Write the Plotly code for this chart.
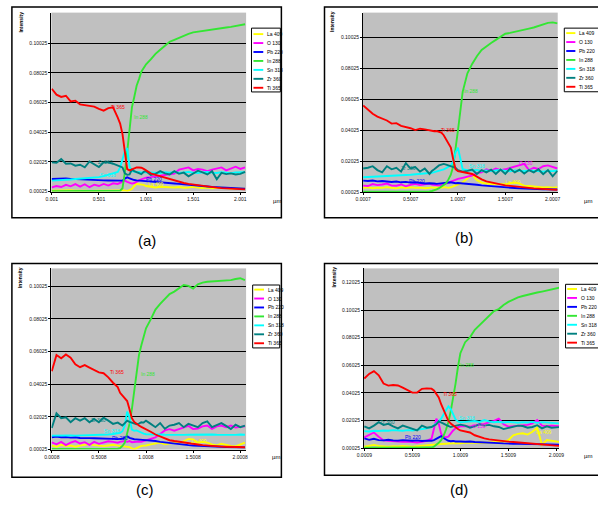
import plotly.graph_objects as go

W, H = 598, 507

# ---------------- data ----------------
DEPTH = [0.0, 0.05, 0.1, 0.15, 0.2, 0.25, 0.3, 0.35, 0.4, 0.45, 0.5, 0.55, 0.6, 0.65, 0.7,
         0.725, 0.75, 0.775, 0.8, 0.825, 0.85, 0.875, 0.9, 0.925, 0.95, 0.975, 1.0,
         1.05, 1.1, 1.15, 1.2, 1.25, 1.3, 1.35, 1.4, 1.45, 1.5, 1.55, 1.6, 1.65, 1.7,
         1.75, 1.8, 1.85, 1.9, 1.95, 2.0, 2.05]

ELEMENTS = ["La 409", "O 130", "Pb 220", "In 288", "Sn 318", "Zr 360", "Ti 365"]
COLORS = ["#FFFF00", "#FF00FF", "#0000FF", "#33E633", "#00FFFF", "#008080", "#FF0000"]

Y_TICKS = [0.00025, 0.02025, 0.04025, 0.06025, 0.08025, 0.10025, 0.12025]
Y_TICK_TEXT = ["0.00025", "0.02025", "0.04025", "0.06025", "0.08025", "0.10025", "0.12025"]
X_TICK_STEPS = [0.0, 0.5, 1.0, 1.5, 2.0]

A_X_TEXT = ["0.001", "0.501", "1.001", "1.501", "2.001"]
B_X_TEXT = ["0.0007", "0.5007", "1.0007", "1.5007", "2.0007"]
C_X_TEXT = ["0.0008", "0.5008", "1.0008", "1.5008", "2.0008"]
D_X_TEXT = ["0.0009", "0.5009", "1.0009", "1.5009", "2.0009"]

# panel (a)
a_la = [0.0008, 0.0010, 0.0008, 0.0009, 0.0011, 0.0008, 0.0010, 0.0009, 0.0007, 0.0010, 0.0008, 0.0009, 0.0011, 0.0009, 0.0010,
        0.0010, 0.0012, 0.0010, 0.0005, 0.0010, 0.0020, 0.0040, 0.0055, 0.0052, 0.0050, 0.0048, 0.0040,
        0.0033, 0.0030, 0.0035, 0.0032, 0.0028, 0.0030, 0.0033, 0.0028, 0.0030, 0.0034, 0.0030, 0.0027, 0.0030, 0.0025, 0.0028, 0.0030, 0.0026, 0.0022, 0.0024, 0.0020, 0.0021]
a_o = [0.0031, 0.0040, 0.0033, 0.0048, 0.0038, 0.0053, 0.0036, 0.0052, 0.0032, 0.0049, 0.0040, 0.0054, 0.0043, 0.0058, 0.0054,
       0.0060, 0.0068, 0.0076, 0.0068, 0.0060, 0.0056, 0.0060, 0.0072, 0.0078, 0.0085, 0.0090, 0.0096,
       0.0100, 0.0104, 0.0108, 0.0112, 0.0120, 0.0124, 0.0150, 0.0160, 0.0165, 0.0145, 0.0155, 0.0150, 0.0140, 0.0150, 0.0158, 0.0165, 0.0145, 0.0160, 0.0170, 0.0155, 0.0165]
a_pb = [0.0087, 0.0089, 0.0092, 0.0090, 0.0088, 0.0086, 0.0085, 0.0083, 0.0082, 0.0080, 0.0079, 0.0078, 0.0077, 0.0076, 0.0074,
        0.0074, 0.0076, 0.0090, 0.0098, 0.0092, 0.0085, 0.0080, 0.0078, 0.0077, 0.0076, 0.0075, 0.0074,
        0.0072, 0.0070, 0.0068, 0.0064, 0.0060, 0.0057, 0.0054, 0.0052, 0.0049, 0.0046, 0.0043, 0.0040, 0.0037, 0.0034, 0.0032, 0.0030, 0.0028, 0.0026, 0.0024, 0.0022, 0.0021]
a_in = [0.0005, 0.0005, 0.0004, 0.0005, 0.0005, 0.0004, 0.0005, 0.0005, 0.0004, 0.0005, 0.0005, 0.0004, 0.0005, 0.0005, 0.0006,
        0.0008, 0.0025, 0.0130, 0.0270, 0.0440, 0.0570, 0.0640, 0.0715, 0.0760, 0.0810, 0.0835, 0.0860,
        0.0893, 0.0930, 0.0958, 0.0985, 0.1012, 0.1025, 0.1040, 0.1052, 0.1065, 0.1075, 0.1080, 0.1088, 0.1092, 0.1098, 0.1100, 0.1105, 0.1108, 0.1112, 0.1118, 0.1124, 0.1130]
a_sn = [0.0076, 0.0077, 0.0079, 0.0082, 0.0084, 0.0087, 0.0089, 0.0092, 0.0094, 0.0097, 0.0100, 0.0106, 0.0114, 0.0124, 0.0135,
        0.0165, 0.0230, 0.0275, 0.0295, 0.0170, 0.0140, 0.0135, 0.0132, 0.0135, 0.0130, 0.0133, 0.0132,
        0.0135, 0.0130, 0.0128, 0.0133, 0.0130, 0.0135, 0.0128, 0.0132, 0.0135, 0.0130, 0.0128, 0.0132, 0.0135, 0.0130, 0.0128, 0.0133, 0.0130, 0.0127, 0.0132, 0.0135, 0.0133]
a_zr = [0.0199, 0.0197, 0.0221, 0.0190, 0.0192, 0.0177, 0.0183, 0.0166, 0.0205, 0.0185, 0.0168, 0.0199, 0.0199, 0.0190, 0.0180,
        0.0172, 0.0165, 0.0125, 0.0115, 0.0118, 0.0150, 0.0140, 0.0132, 0.0125, 0.0120, 0.0135, 0.0140,
        0.0115, 0.0122, 0.0140, 0.0125, 0.0118, 0.0140, 0.0122, 0.0130, 0.0105, 0.0122, 0.0143, 0.0132, 0.0118, 0.0140, 0.0085, 0.0128, 0.0120, 0.0125, 0.0118, 0.0122, 0.0135]
a_ti = [0.0695, 0.0655, 0.0640, 0.0648, 0.0610, 0.0615, 0.0590, 0.0585, 0.0578, 0.0575, 0.0560, 0.0548, 0.0565, 0.0570, 0.0500,
        0.0460, 0.0390, 0.0270, 0.0154, 0.0145, 0.0152, 0.0158, 0.0165, 0.0165, 0.0163, 0.0155, 0.0145,
        0.0125, 0.0115, 0.0106, 0.0097, 0.0085, 0.0075, 0.0067, 0.0060, 0.0054, 0.0049, 0.0045, 0.0040, 0.0036, 0.0032, 0.0029, 0.0026, 0.0024, 0.0022, 0.0020, 0.0018, 0.0017]

# panel (b)
b_la = [0.0030, 0.0034, 0.0028, 0.0032, 0.0030, 0.0035, 0.0031, 0.0027, 0.0033, 0.0029, 0.0034, 0.0030, 0.0032, 0.0028, 0.0031,
        0.0033, 0.0030, 0.0032, 0.0034, 0.0031, 0.0035, 0.0033, 0.0030, 0.0034, 0.0040, 0.0045, 0.0050,
        0.0065, 0.0090, 0.0115, 0.0080, 0.0065, 0.0058, 0.0055, 0.0053, 0.0056, 0.0052, 0.0060, 0.0065, 0.0058, 0.0045, 0.0042, 0.0038, 0.0035, 0.0033, 0.0035, 0.0032, 0.0034]
b_o = [0.0045, 0.0042, 0.0055, 0.0048, 0.0052, 0.0058, 0.0045, 0.0044, 0.0052, 0.0040, 0.0050, 0.0056, 0.0048, 0.0055, 0.0058,
       0.0052, 0.0050, 0.0048, 0.0045, 0.0050, 0.0053, 0.0058, 0.0062, 0.0070, 0.0077, 0.0085, 0.0088,
       0.0095, 0.0102, 0.0110, 0.0125, 0.0130, 0.0150, 0.0140, 0.0155, 0.0145, 0.0150, 0.0160, 0.0165, 0.0175, 0.0185, 0.0145, 0.0160, 0.0152, 0.0170, 0.0175, 0.0165, 0.0155]
b_pb = [0.0077, 0.0075, 0.0078, 0.0072, 0.0074, 0.0070, 0.0068, 0.0071, 0.0066, 0.0069, 0.0064, 0.0066, 0.0060, 0.0058, 0.0060,
        0.0057, 0.0058, 0.0056, 0.0058, 0.0060, 0.0062, 0.0064, 0.0065, 0.0066, 0.0063, 0.0060, 0.0062,
        0.0060, 0.0056, 0.0053, 0.0050, 0.0046, 0.0043, 0.0040, 0.0038, 0.0035, 0.0033, 0.0031, 0.0029, 0.0027, 0.0025, 0.0024, 0.0023, 0.0022, 0.0021, 0.0021, 0.0020, 0.0020]
b_in = [0.0006, 0.0006, 0.0005, 0.0006, 0.0006, 0.0005, 0.0006, 0.0006, 0.0005, 0.0006, 0.0006, 0.0005, 0.0006, 0.0006, 0.0007,
        0.0010, 0.0014, 0.0020, 0.0028, 0.0038, 0.0048, 0.0060, 0.0085, 0.0115, 0.0170, 0.0280, 0.0400,
        0.0650, 0.0770, 0.0830, 0.0880, 0.0920, 0.0945, 0.0965, 0.0985, 0.1005, 0.1025, 0.1030, 0.1038, 0.1042, 0.1050, 0.1058, 0.1065, 0.1075, 0.1085, 0.1095, 0.1098, 0.1092]
b_sn = [0.0099, 0.0100, 0.0101, 0.0103, 0.0105, 0.0106, 0.0108, 0.0109, 0.0111, 0.0113, 0.0115, 0.0117, 0.0120, 0.0122, 0.0125,
        0.0128, 0.0132, 0.0136, 0.0140, 0.0145, 0.0150, 0.0158, 0.0165, 0.0175, 0.0200, 0.0260, 0.0290,
        0.0150, 0.0145, 0.0142, 0.0145, 0.0140, 0.0143, 0.0138, 0.0142, 0.0145, 0.0140, 0.0137, 0.0142, 0.0140, 0.0138, 0.0143, 0.0140, 0.0137, 0.0135, 0.0140, 0.0138, 0.0142]
b_zr = [0.0155, 0.0160, 0.0170, 0.0145, 0.0130, 0.0170, 0.0150, 0.0160, 0.0135, 0.0190, 0.0155, 0.0165, 0.0135, 0.0155, 0.0120,
        0.0140, 0.0150, 0.0165, 0.0175, 0.0180, 0.0185, 0.0180, 0.0175, 0.0172, 0.0165, 0.0160, 0.0145,
        0.0135, 0.0140, 0.0148, 0.0120, 0.0145, 0.0130, 0.0148, 0.0120, 0.0148, 0.0120, 0.0155, 0.0130, 0.0148, 0.0122, 0.0145, 0.0130, 0.0150, 0.0118, 0.0145, 0.0105, 0.0140]
b_ti = [0.0562, 0.0535, 0.0508, 0.0490, 0.0478, 0.0465, 0.0445, 0.0448, 0.0430, 0.0424, 0.0415, 0.0403, 0.0412, 0.0408, 0.0402,
        0.0398, 0.0396, 0.0397, 0.0393, 0.0387, 0.0370, 0.0340, 0.0318, 0.0290, 0.0215, 0.0150, 0.0138,
        0.0130, 0.0126, 0.0120, 0.0100, 0.0085, 0.0072, 0.0065, 0.0058, 0.0052, 0.0046, 0.0043, 0.0039, 0.0035, 0.0032, 0.0030, 0.0027, 0.0025, 0.0022, 0.0020, 0.0019, 0.0018]

# panel (c)
c_la = [0.0027, 0.0020, 0.0032, 0.0025, 0.0028, 0.0020, 0.0027, 0.0033, 0.0037, 0.0030, 0.0025, 0.0024, 0.0028, 0.0032, 0.0027,
        0.0025, 0.0022, 0.0018, 0.0016, 0.0018, 0.0010, 0.0004, 0.0012, 0.0020, 0.0025, 0.0027, 0.0028,
        0.0035, 0.0038, 0.0045, 0.0035, 0.0040, 0.0045, 0.0040, 0.0055, 0.0068, 0.0065, 0.0045, 0.0050, 0.0045, 0.0035, 0.0028, 0.0038, 0.0030, 0.0025, 0.0022, 0.0035, 0.0045]
c_o = [0.0047, 0.0035, 0.0050, 0.0030, 0.0045, 0.0055, 0.0040, 0.0048, 0.0032, 0.0050, 0.0038, 0.0046, 0.0054, 0.0050, 0.0045,
       0.0050, 0.0052, 0.0055, 0.0050, 0.0055, 0.0048, 0.0050, 0.0048, 0.0052, 0.0050, 0.0055, 0.0060,
       0.0066, 0.0078, 0.0098, 0.0120, 0.0128, 0.0118, 0.0128, 0.0140, 0.0148, 0.0128, 0.0132, 0.0145, 0.0150, 0.0130, 0.0145, 0.0150, 0.0140, 0.0150, 0.0138, 0.0142, 0.0145]
c_pb = [0.0078, 0.0082, 0.0078, 0.0080, 0.0076, 0.0078, 0.0074, 0.0075, 0.0073, 0.0072, 0.0070, 0.0071, 0.0069, 0.0068, 0.0067,
        0.0068, 0.0070, 0.0076, 0.0085, 0.0075, 0.0068, 0.0066, 0.0065, 0.0064, 0.0063, 0.0062, 0.0060,
        0.0058, 0.0055, 0.0050, 0.0046, 0.0042, 0.0038, 0.0035, 0.0032, 0.0030, 0.0028, 0.0026, 0.0025, 0.0023, 0.0022, 0.0021, 0.0020, 0.0019, 0.0018, 0.0017, 0.0016, 0.0016]
c_in = [0.0007, 0.0007, 0.0006, 0.0007, 0.0007, 0.0006, 0.0007, 0.0007, 0.0006, 0.0007, 0.0007, 0.0006, 0.0007, 0.0007, 0.0008,
        0.0012, 0.0025, 0.0045, 0.0098, 0.0160, 0.0250, 0.0365, 0.0480, 0.0580, 0.0640, 0.0686, 0.0745,
        0.0800, 0.0860, 0.0895, 0.0925, 0.0955, 0.0970, 0.0990, 0.1010, 0.1005, 0.0988, 0.1015, 0.1025, 0.1030, 0.1032, 0.1035, 0.1036, 0.1037, 0.1040, 0.1047, 0.1052, 0.1040]
c_sn = [0.0088, 0.0089, 0.0087, 0.0088, 0.0090, 0.0088, 0.0089, 0.0090, 0.0089, 0.0091, 0.0090, 0.0092, 0.0095, 0.0098, 0.0100,
        0.0105, 0.0115, 0.0150, 0.0235, 0.0200, 0.0125, 0.0118, 0.0120, 0.0112, 0.0105, 0.0100, 0.0097,
        0.0095, 0.0094, 0.0095, 0.0094, 0.0093, 0.0095, 0.0094, 0.0093, 0.0094, 0.0095, 0.0094, 0.0093, 0.0094, 0.0095, 0.0094, 0.0093, 0.0095, 0.0094, 0.0093, 0.0095, 0.0094]
c_zr = [0.0135, 0.0225, 0.0195, 0.0200, 0.0170, 0.0195, 0.0180, 0.0195, 0.0170, 0.0190, 0.0170, 0.0198, 0.0180, 0.0160, 0.0168,
        0.0160, 0.0150, 0.0165, 0.0180, 0.0172, 0.0168, 0.0160, 0.0158, 0.0162, 0.0170, 0.0168, 0.0180,
        0.0160, 0.0140, 0.0165, 0.0130, 0.0150, 0.0155, 0.0165, 0.0140, 0.0160, 0.0150, 0.0140, 0.0165, 0.0175, 0.0140, 0.0155, 0.0165, 0.0148, 0.0128, 0.0155, 0.0140, 0.0150]
c_ti = [0.0483, 0.0582, 0.0562, 0.0585, 0.0565, 0.0525, 0.0507, 0.0520, 0.0505, 0.0490, 0.0475, 0.0470, 0.0445, 0.0412, 0.0385,
        0.0350, 0.0335, 0.0318, 0.0300, 0.0250, 0.0195, 0.0172, 0.0158, 0.0150, 0.0142, 0.0135, 0.0128,
        0.0112, 0.0095, 0.0082, 0.0070, 0.0060, 0.0055, 0.0050, 0.0046, 0.0042, 0.0038, 0.0034, 0.0030, 0.0027, 0.0025, 0.0023, 0.0021, 0.0020, 0.0019, 0.0018, 0.0017, 0.0017]

# panel (d)
d_la = [0.0012, 0.0018, 0.0025, 0.0018, 0.0015, 0.0012, 0.0016, 0.0014, 0.0018, 0.0015, 0.0013, 0.0016, 0.0018, 0.0020, 0.0022,
        0.0025, 0.0028, 0.0030, 0.0032, 0.0030, 0.0033, 0.0035, 0.0033, 0.0036, 0.0038, 0.0035, 0.0037,
        0.0040, 0.0042, 0.0040, 0.0043, 0.0041, 0.0044, 0.0042, 0.0045, 0.0048, 0.0060, 0.0095, 0.0105, 0.0110, 0.0100, 0.0120, 0.0150, 0.0025, 0.0060, 0.0055, 0.0045, 0.0045]
d_o = [0.0080, 0.0100, 0.0115, 0.0085, 0.0058, 0.0055, 0.0052, 0.0050, 0.0048, 0.0050, 0.0045, 0.0043, 0.0048, 0.0055, 0.0070,
       0.0150, 0.0215, 0.0180, 0.0105, 0.0085, 0.0080, 0.0085, 0.0110, 0.0130, 0.0145, 0.0150, 0.0160,
       0.0162, 0.0158, 0.0165, 0.0175, 0.0178, 0.0188, 0.0200, 0.0215, 0.0175, 0.0158, 0.0160, 0.0165, 0.0168, 0.0170, 0.0182, 0.0205, 0.0165, 0.0160, 0.0165, 0.0162, 0.0160]
d_pb = [0.0072, 0.0062, 0.0070, 0.0060, 0.0058, 0.0062, 0.0058, 0.0056, 0.0060, 0.0057, 0.0055, 0.0058, 0.0054, 0.0056, 0.0055,
        0.0060, 0.0068, 0.0080, 0.0088, 0.0075, 0.0062, 0.0055, 0.0052, 0.0054, 0.0050, 0.0052, 0.0050,
        0.0048, 0.0050, 0.0046, 0.0045, 0.0046, 0.0043, 0.0040, 0.0038, 0.0036, 0.0037, 0.0034, 0.0033, 0.0032, 0.0031, 0.0030, 0.0030, 0.0029, 0.0030, 0.0028, 0.0027, 0.0027]
d_in = [0.0005, 0.0005, 0.0004, 0.0005, 0.0005, 0.0004, 0.0005, 0.0005, 0.0004, 0.0005, 0.0005, 0.0004, 0.0005, 0.0005, 0.0006,
        0.0012, 0.0025, 0.0040, 0.0060, 0.0090, 0.0135, 0.0190, 0.0270, 0.0360, 0.0470, 0.0590, 0.0690,
        0.0770, 0.0805, 0.0860, 0.0895, 0.0930, 0.0962, 0.0995, 0.1010, 0.1040, 0.1062, 0.1080, 0.1095, 0.1105, 0.1115, 0.1122, 0.1130, 0.1137, 0.1145, 0.1150, 0.1160, 0.1168]
d_sn = [0.0125, 0.0122, 0.0128, 0.0126, 0.0130, 0.0128, 0.0132, 0.0130, 0.0128, 0.0132, 0.0130, 0.0135, 0.0138, 0.0145, 0.0155,
        0.0165, 0.0180, 0.0195, 0.0215, 0.0245, 0.0280, 0.0305, 0.0285, 0.0240, 0.0210, 0.0195, 0.0190,
        0.0192, 0.0195, 0.0198, 0.0192, 0.0205, 0.0195, 0.0190, 0.0193, 0.0188, 0.0192, 0.0190, 0.0186, 0.0190, 0.0188, 0.0192, 0.0185, 0.0190, 0.0188, 0.0185, 0.0182, 0.0180]
d_zr = [0.0160, 0.0145, 0.0165, 0.0190, 0.0170, 0.0178, 0.0160, 0.0145, 0.0165, 0.0155, 0.0140, 0.0130, 0.0165, 0.0150, 0.0155,
        0.0165, 0.0175, 0.0195, 0.0190, 0.0180, 0.0170, 0.0160, 0.0155, 0.0160, 0.0165, 0.0170, 0.0172,
        0.0165, 0.0150, 0.0160, 0.0175, 0.0165, 0.0170, 0.0160, 0.0155, 0.0140, 0.0150, 0.0158, 0.0165, 0.0162, 0.0150, 0.0155, 0.0168, 0.0145, 0.0160, 0.0150, 0.0155, 0.0155]
d_ti = [0.0507, 0.0540, 0.0560, 0.0530, 0.0470, 0.0455, 0.0460, 0.0456, 0.0440, 0.0420, 0.0404, 0.0405, 0.0432, 0.0435, 0.0433,
        0.0420, 0.0395, 0.0370, 0.0320, 0.0275, 0.0235, 0.0200, 0.0180, 0.0165, 0.0150, 0.0140, 0.0130,
        0.0125, 0.0115, 0.0095, 0.0082, 0.0073, 0.0065, 0.0060, 0.0055, 0.0052, 0.0049, 0.0046, 0.0043, 0.0040, 0.0038, 0.0036, 0.0033, 0.0031, 0.0029, 0.0025, 0.0020, 0.0017]

# inline series labels (label, depth, intensity) - label centres
A_LABELS = [("Ti 365", 0.698, 0.0574), ("In 288", 0.951, 0.0504), ("Zr 360", 0.566, 0.0203),
            ("Sn 318", 0.597, 0.0112), ("Pb 220", 1.085, 0.0087), ("La 409", 1.106, 0.0052)]
B_LABELS = [("Ti 365", 0.894, 0.0402), ("In 288", 1.135, 0.0654), ("Zr 360", 0.480, 0.0156),
            ("Sn 318", 1.205, 0.0173), ("Pb 220", 0.563, 0.0077), ("La 409", 1.585, 0.0071), ("O 130", 1.722, 0.0190)]
C_LABELS = [("Ti 365", 0.697, 0.0479), ("In 288", 1.023, 0.0467), ("Zr 360", 0.496, 0.0185),
            ("Sn 318", 0.640, 0.0114), ("Pb 220", 0.720, 0.0071), ("La 409", 1.563, 0.0057)]
D_LABELS = [("Ti 365", 0.888, 0.0392), ("In 288", 1.074, 0.0604), ("Zr 360", 0.242, 0.0188),
            ("Sn 318", 1.074, 0.0219), ("Pb 220", 0.503, 0.0079), ("La 409", 1.873, 0.0116), ("O 130", 1.194, 0.0164)]

# ---------------- layout geometry (pixels) ----------------
PANELS = [
    dict(offset=0.001, xtext=A_X_TEXT, series=[a_la, a_o, a_pb, a_in, a_sn, a_zr, a_ti], labels=A_LABELS,
         plot=(45.3, 244.0, 12.7, 192.7), xr=(-0.003, 2.062), yr=(0.00025, 0.1208), nyt=6,
         frame=(5, 280, 7, 219), legbox=(249.5, 279, 28.3, 92.5), legline=(251.5, 261.5), legtext=263, legy0=34.3,
         caption=("(a)", 143, 242), intensity=(14, 22), um=(276, 201.7)),
    dict(offset=0.0007, xtext=B_X_TEXT, series=[b_la, b_o, b_pb, b_in, b_sn, b_zr, b_ti], labels=B_LABELS,
         plot=(363.3, 562.0, 12.7, 193.3), xr=(-0.0013, 2.054), yr=(0.00025, 0.1161), nyt=6,
         frame=(324, 640, 7, 219), legbox=(568.7, 640, 28.3, 92.3), legline=(570.7, 580), legtext=581.5, legy0=33.3,
         caption=("(b)", 466, 239), intensity=(332.3, 21.5), um=(593.3, 201.7)),
    dict(offset=0.0008, xtext=C_X_TEXT, series=[c_la, c_o, c_pb, c_in, c_sn, c_zr, c_ti], labels=C_LABELS,
         plot=(45.3, 244.0, 270.0, 452.3), xr=(-0.0032, 2.063), yr=(0.00025, 0.1112), nyt=6,
         frame=(5, 280, 265, 480), legbox=(250.7, 278.3, 286.7, 350), legline=(252.3, 262.3), legtext=264, legy0=291.3,
         caption=("(c)", 141, 492), intensity=(14, 279), um=(275, 460)),
    dict(offset=0.0009, xtext=D_X_TEXT, series=[d_la, d_o, d_pb, d_in, d_sn, d_zr, d_ti], labels=D_LABELS,
         plot=(364.3, 563.3, 270.0, 450.7), xr=(-0.0025, 2.028), yr=(0.00025, 0.1305), nyt=7,
         frame=(324, 640, 265, 478), legbox=(570, 640, 286, 350), legline=(571.7, 581.7), legtext=583.3, legy0=290.7,
         caption=("(d)", 461, 492), intensity=(333.3, 278.5), um=(593.3, 459)),
]
LEG_STEP = 9.0

FONT = "Liberation Sans, Arial, sans-serif"


def fx(x):
    return x / W


def fy(y):
    return 1 - y / H


fig = go.Figure()
shapes = []
annotations = []
layout = {}

for i, p in enumerate(PANELS, start=1):
    xa = "x" if i == 1 else f"x{i}"
    ya = "y" if i == 1 else f"y{i}"
    xs = [p["offset"] + d for d in DEPTH]
    for name, color, vals in zip(ELEMENTS, COLORS, p["series"]):
        fig.add_trace(go.Scatter(x=xs, y=vals, mode="lines", name=name,
                                 line=dict(color=color, width=1.9),
                                 xaxis=xa, yaxis=ya, showlegend=False, hoverinfo="skip"))
    x0, x1, y0, y1 = p["plot"]
    layout[f"xaxis{i}" if i > 1 else "xaxis"] = dict(
        domain=[fx(x0), fx(x1)], anchor=ya, range=list(p["xr"]),
        tickvals=[p["offset"] + s for s in X_TICK_STEPS], ticktext=p["xtext"],
        showgrid=False, zeroline=False, showline=True, linecolor="#000", linewidth=1,
        ticks="outside", ticklen=2, tickcolor="#000",
        tickfont=dict(size=5, family=FONT, color="#111"))
    layout[f"yaxis{i}" if i > 1 else "yaxis"] = dict(
        domain=[fy(y1), fy(y0)], anchor=xa, range=list(p["yr"]),
        tickvals=Y_TICKS[:p["nyt"]], ticktext=Y_TICK_TEXT[:p["nyt"]],
        showgrid=True, gridcolor="#000", gridwidth=1, zeroline=False,
        showline=True, linecolor="#000", linewidth=1,
        ticks="outside", ticklen=2, tickcolor="#000",
        tickfont=dict(size=5, family=FONT, color="#111"))

    # outer frame
    fx0, fx1, fy0, fy1 = p["frame"]
    shapes.append(dict(type="rect", xref="paper", yref="paper", x0=fx(fx0), x1=fx(fx1), y0=fy(fy1), y1=fy(fy0),
                       line=dict(color="#000", width=1.5), layer="below"))
    # legend box
    lx0, lx1, ly0, ly1 = p["legbox"]
    shapes.append(dict(type="rect", xref="paper", yref="paper", x0=fx(lx0), x1=fx(lx1), y0=fy(ly1), y1=fy(ly0),
                       line=dict(color="#000", width=1), fillcolor="#fff", layer="above"))
    for k, (name, color) in enumerate(zip(ELEMENTS, COLORS)):
        yy = p["legy0"] + k * LEG_STEP
        shapes.append(dict(type="line", xref="paper", yref="paper", x0=fx(p["legline"][0]), x1=fx(p["legline"][1]),
                           y0=fy(yy), y1=fy(yy), line=dict(color=color, width=1.9), layer="above"))
        annotations.append(dict(xref="paper", yref="paper", x=fx(p["legtext"]), y=fy(yy), text=name,
                                showarrow=False, xanchor="left", yanchor="middle",
                                font=dict(size=5, family=FONT, color="#000")))
    # inline labels
    for name, d, v in p["labels"]:
        color = COLORS[ELEMENTS.index(name)]
        annotations.append(dict(xref=xa, yref=ya, x=p["offset"] + d, y=v, text=name, showarrow=False,
                                xanchor="center", yanchor="middle",
                                font=dict(size=5, family=FONT, color=color)))
    # axis titles
    ix, iy = p["intensity"]
    annotations.append(dict(xref="paper", yref="paper", x=fx(ix), y=fy(iy), text="<b>Intensity</b>",
                            textangle=-90, showarrow=False, xanchor="center", yanchor="middle",
                            font=dict(size=5, family=FONT, color="#000")))
    ux, uy = p["um"]
    annotations.append(dict(xref="paper", yref="paper", x=fx(ux), y=fy(uy), text="µm", showarrow=False,
                            xanchor="center", yanchor="middle", font=dict(size=6, family=FONT, color="#000")))
    cap, cx, cy = p["caption"]
    annotations.append(dict(xref="paper", yref="paper", x=fx(cx), y=fy(cy), text=cap, showarrow=False,
                            xanchor="center", yanchor="middle", font=dict(size=15, family=FONT, color="#000")))

fig.update_layout(
    width=W, height=H, margin=dict(l=0, r=0, t=0, b=0),
    paper_bgcolor="#FFFFFF", plot_bgcolor="#C0C0C0",
    showlegend=False, shapes=shapes, annotations=annotations,
    **layout)

fig.write_html("out.html")
